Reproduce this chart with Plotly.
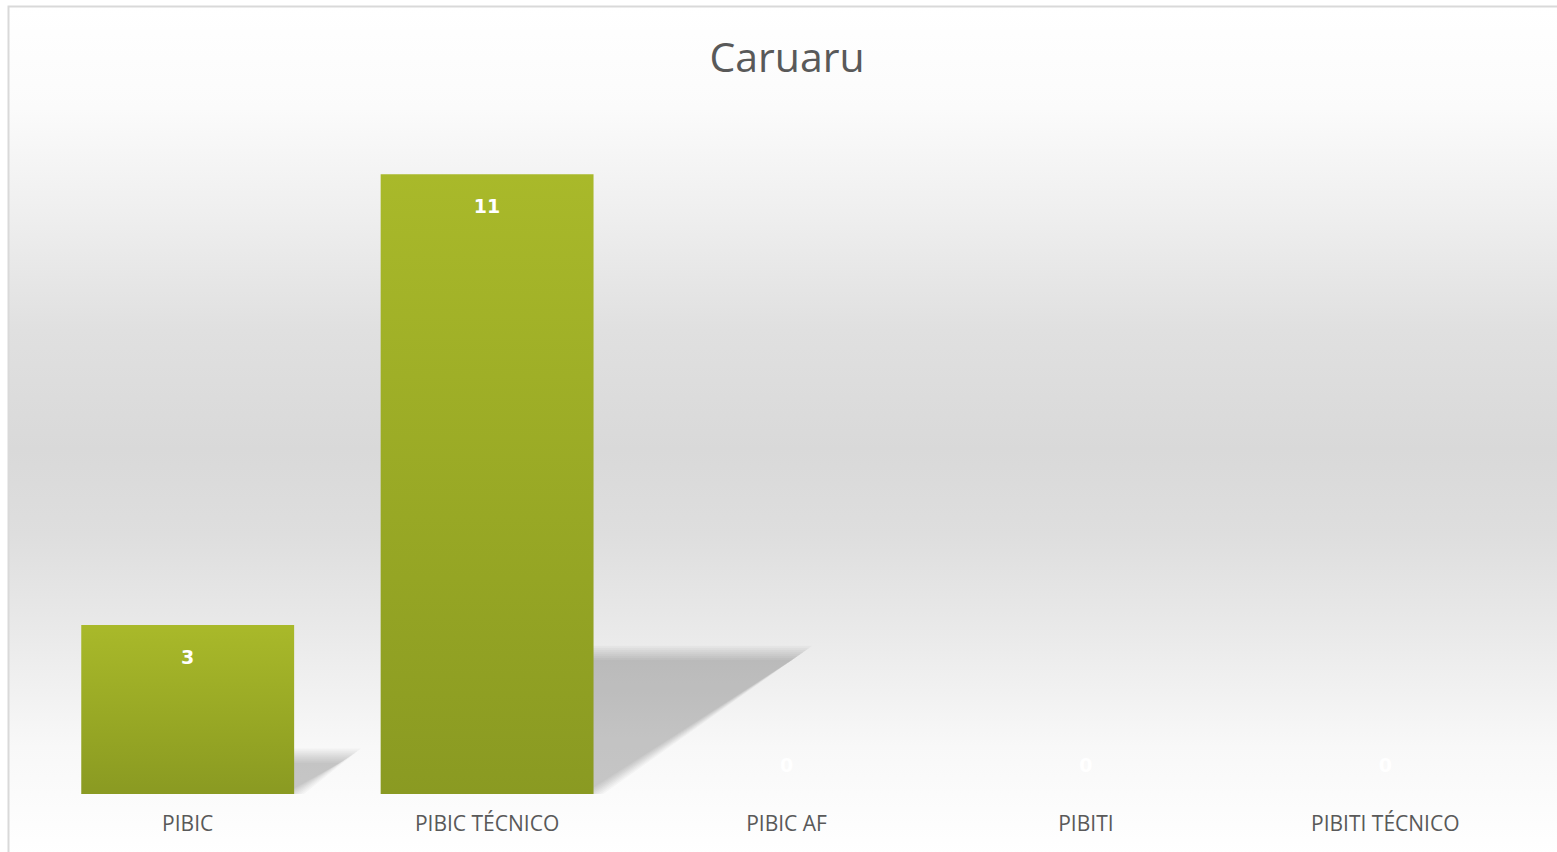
import base64
import plotly.graph_objects as go

# ---- data ----
categories = ["PIBIC", "PIBIC TÉCNICO", "PIBIC AF", "PIBITI", "PIBITI TÉCNICO"]
values = [3, 11, 0, 0, 0]
title_text = "Caruaru"

# ---- geometry / style ----
W, H = 1557, 852
ML, MR, MT, MB = 38, 22, 118, 58
PW, PH = W - ML - MR, H - MT - MB
YMAX = 12
BAR_W = 0.711
SH_H = 0.228      # shadow height as fraction of bar value
SH_DX = 0.0635    # shadow shear (category units) per unit value
px_per_x = PW / 5.0
px_per_y = PH / YMAX


def pxx(px):
    return (px - ML) / PW


def pxy(py):
    return 1 - (py - MT) / PH


fig = go.Figure()

# shadows (soft, layered)
n_layers = 8
for i, v in enumerate(values):
    if v <= 0:
        continue
    xl, xr = i - BAR_W / 2, i + BAR_W / 2
    h = v * SH_H
    dx = v * SH_DX
    for k in range(n_layers):
        d = (k - (n_layers - 1) / 2) * 2.0  # px offset
        ddx = d * 1.4 / px_per_x
        ddy = d / px_per_y
        xs = [xl, xr + ddx, xr + dx + ddx, xl + dx, xl]
        ys = [0, 0, h + ddy, h + ddy, 0]
        fig.add_trace(go.Scatter(
            x=xs, y=ys, mode="lines", fill="toself",
            fillcolor="rgba(0,0,0,0.026)", line=dict(width=0),
            hoverinfo="skip", showlegend=False))

# bars with vertical gradient
for i, v in enumerate(values):
    if v <= 0:
        continue
    xl, xr = i - BAR_W / 2, i + BAR_W / 2
    fig.add_trace(go.Scatter(
        x=[xl, xr, xr, xl, xl], y=[0, 0, v, v, 0],
        mode="lines", fill="toself", line=dict(width=0),
        fillcolor="#9aaa26",
        fillgradient=dict(type="vertical",
                          colorscale=[[0, "#8a9a22"], [0.35, "#95a524"], [1, "#a9b92a"]],
                          start=0, stop=v),
        name=categories[i], hoverinfo="skip", showlegend=False))

# data labels
lab_y = [v - 0.6 if v > 0 else 0.47 for v in values]
fig.add_trace(go.Scatter(
    x=list(range(len(values))), y=lab_y, mode="text",
    text=[str(v) for v in values],
    textfont=dict(family="DejaVu Sans", size=19, color="white", weight="bold"),
    hoverinfo="skip", showlegend=False))

# background gradient (whole chart)
svg = (
    '<svg xmlns="http://www.w3.org/2000/svg" width="100" height="100" preserveAspectRatio="none">'
    '<defs><linearGradient id="g" x1="0" y1="0" x2="0" y2="1">'
    '<stop offset="0" stop-color="#ffffff"/>'
    '<stop offset="0.12" stop-color="#fbfbfb"/>'
    '<stop offset="0.25" stop-color="#eeeeee"/>'
    '<stop offset="0.38" stop-color="#e0e0e0"/>'
    '<stop offset="0.52" stop-color="#d9d9d9"/>'
    '<stop offset="0.62" stop-color="#dedede"/>'
    '<stop offset="0.74" stop-color="#eaeaea"/>'
    '<stop offset="0.87" stop-color="#f8f8f8"/>'
    '<stop offset="1" stop-color="#ffffff"/>'
    '</linearGradient></defs>'
    '<rect width="100" height="100" fill="url(#g)"/></svg>'
)
src = "data:image/svg+xml;base64," + base64.b64encode(svg.encode()).decode()
fig.add_layout_image(dict(
    source=src, xref="paper", yref="paper",
    x=pxx(9), y=pxy(7), sizex=(W + 5 - 9) / PW, sizey=(H + 5 - 7) / PH,
    xanchor="left", yanchor="top", sizing="stretch", layer="below"))

# chart border (light grey)
fig.add_shape(type="rect", xref="paper", yref="paper",
              x0=pxx(8.5), y0=pxy(H + 20), x1=pxx(W + 20), y1=pxy(6.5),
              line=dict(color="#d9d9d9", width=2), fillcolor="rgba(0,0,0,0)",
              layer="below")

fig.update_layout(
    width=W, height=H,
    margin=dict(l=ML, r=MR, t=MT, b=MB, pad=0),
    paper_bgcolor="white", plot_bgcolor="rgba(0,0,0,0)",
    title=dict(text=title_text, x=pxx(787), xref="paper", xanchor="center",
               y=1 - 58 / H, yanchor="middle",
               font=dict(family="Open Sans", size=41, color="#595959")),
    xaxis=dict(range=[-0.5, len(categories) - 0.5], tickvals=list(range(len(categories))),
               ticktext=categories, showgrid=False, zeroline=False, showline=False,
               ticks="outside", ticklen=11, tickcolor="rgba(0,0,0,0)",
               tickfont=dict(family="Open Sans", size=21, color="#595959"),
               fixedrange=True),
    yaxis=dict(range=[0, YMAX], visible=False, fixedrange=True),
    showlegend=False,
)

fig.write_html("out.html", config={"displayModeBar": False},
               post_script="document.body.style.margin='0';document.body.style.overflow='hidden';")
